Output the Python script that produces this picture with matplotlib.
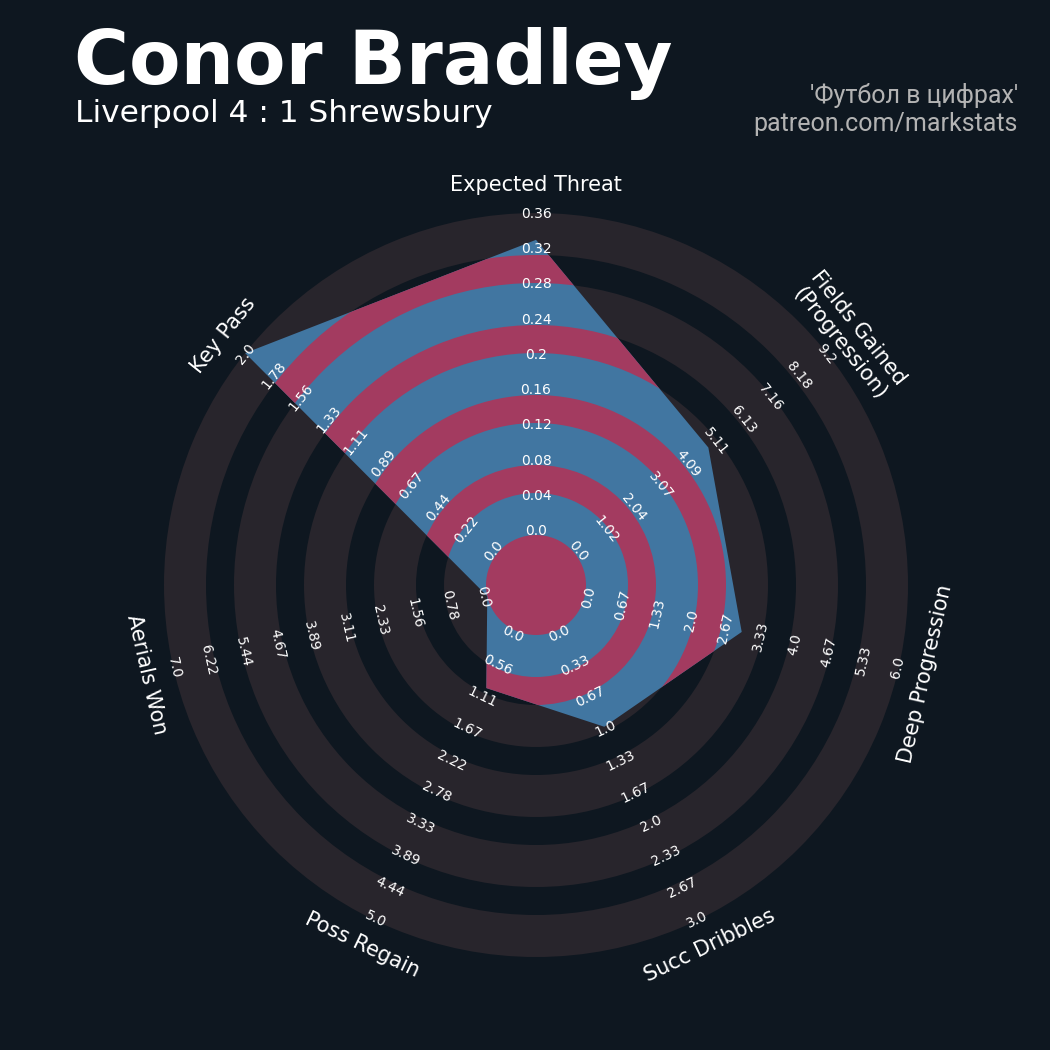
import numpy as np
import matplotlib.pyplot as plt
from matplotlib.patches import Wedge, Circle, Polygon

# radar data
params = ['Expected Threat', 'Fields Gained\n(Progression)', 'Deep Progression',
          'Succ Dribbles', 'Poss Regain', 'Aerials Won', 'Key Pass']
low = [0, 0, 0, 0, 0, 0, 0]
high = [0.36, 9.2, 6.0, 3.0, 5.0, 7.0, 2.0]
values = [0.33, 4.87, 3.0, 1.0, 1.0, 0.0, 2.0]

title = 'Conor Bradley'
subtitle = 'Liverpool 4 : 1 Shrewsbury'
credit1 = "'Футбол в цифрах'"
credit2 = 'patreon.com/markstats'

# colours
BG = '#0e1720'
RING = '#28252c'
BLUE = '#4176a1'
PINK = '#a33b60'

# geometry (axes units == pixels)
R0 = 50       # center circle radius (value = low)
R = 372       # outer radius (value = high)
GREY_W = 42
GAP_W = 28
N_LAB = 10

n = len(params)
theta = np.deg2rad(90 - np.arange(n) * 360 / n)

fig = plt.figure(figsize=(10.5, 10.5), dpi=100, facecolor=BG)
ax = fig.add_axes([0, 0, 1, 1])
ax.set_xlim(-536, 514)
ax.set_ylim(-465, 585)
ax.set_aspect('equal')
ax.axis('off')

# grey rings
inner = R0
while inner < R:
    ax.add_patch(Wedge((0, 0), inner + GREY_W, 0, 360, width=GREY_W,
                       facecolor=RING, edgecolor='none', zorder=1))
    inner += GREY_W + GAP_W

# radar polygon
lo = np.array(low, dtype=float)
hi = np.array(high, dtype=float)
vals = np.array(values, dtype=float)
rad = R0 + (vals - lo) / (hi - lo) * (R - R0)
xy = np.column_stack([rad * np.cos(theta), rad * np.sin(theta)])
poly = Polygon(xy, closed=True, facecolor=BLUE, edgecolor='none', zorder=2)
ax.add_patch(poly)

# pink bands inside the polygon (where the background gaps are)
gaps = [Circle((0, 0), R0, facecolor=PINK, edgecolor='none', zorder=3)]
outer = R0 + GREY_W + GAP_W
while outer < R:
    gaps.append(Wedge((0, 0), outer, 0, 360, width=GAP_W,
                      facecolor=PINK, edgecolor='none', zorder=3))
    outer += GREY_W + GAP_W
for g in gaps:
    ax.add_patch(g)
    g.set_clip_path(poly)


def rot_of(t):
    # tangent rotation, kept readable
    return (np.rad2deg(t) % 180) - 90


# range labels
lab_r = np.linspace(54, 371, N_LAB)
for i in range(n):
    rot = rot_of(theta[i])
    steps = np.linspace(low[i], high[i], N_LAB)
    for k in range(N_LAB):
        txt = str(round(float(steps[k]), 2))
        ax.text(lab_r[k] * np.cos(theta[i]), lab_r[k] * np.sin(theta[i]), txt,
                rotation=rot, rotation_mode='anchor', ha='center', va='center',
                fontsize=10, color='white', zorder=5)

# param labels
for i in range(n):
    rot = rot_of(theta[i])
    ax.text(400 * np.cos(theta[i]), 400 * np.sin(theta[i]), params[i],
            rotation=rot, rotation_mode='anchor', ha='center', va='center',
            multialignment='center', fontsize=15, color='white', zorder=5)

# titles
fig.text(74 / 1050, 1 - 84 / 1050, title, fontsize=54, fontweight='bold',
         color='white', va='baseline', ha='left')
fig.text(75 / 1050, 1 - 122 / 1050, subtitle, fontsize=22.5,
         color='white', va='baseline', ha='left')
fig.text(1018 / 1050, 1 - 96 / 1050, credit1, fontsize=18, family='Roboto',
         color='#b3b3b3', va='center', ha='right')
fig.text(1018 / 1050, 1 - 124 / 1050, credit2, fontsize=18, family='Roboto',
         color='#b3b3b3', va='center', ha='right')

fig.savefig('out.png', dpi=100, facecolor=BG)
